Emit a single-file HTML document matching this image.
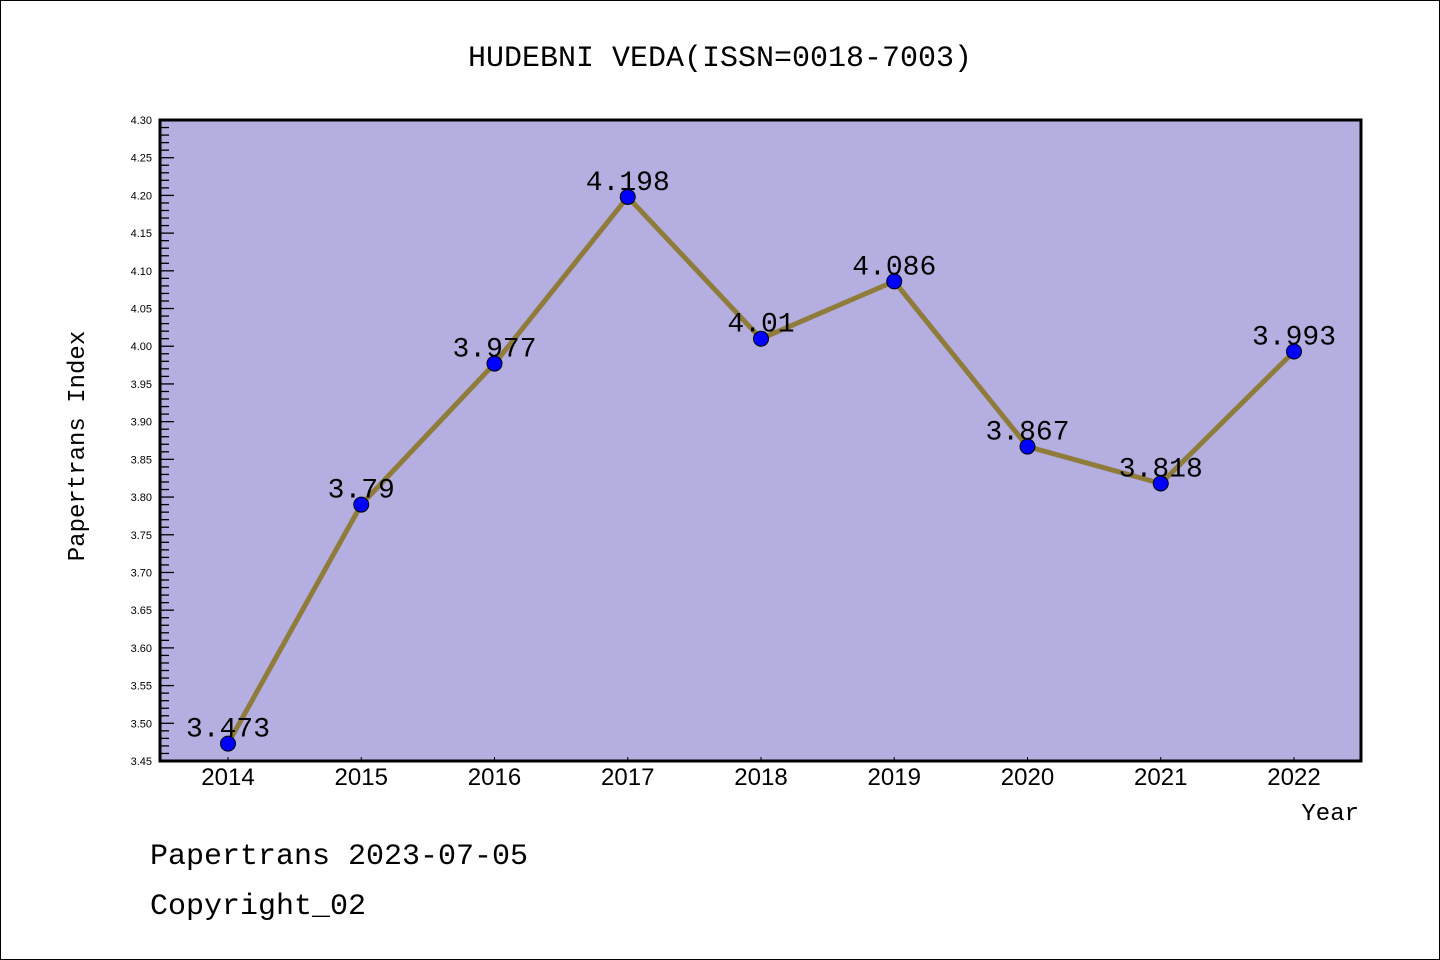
<!DOCTYPE html>
<html><head><meta charset="utf-8"><style>
html,body{margin:0;padding:0;background:#fff;}
svg{display:block;font-family:"Liberation Sans","Noto Sans CJK SC",sans-serif;}
</style></head><body>
<svg id="chart" width="1440" height="960" viewBox="0 0 1440 960" xmlns="http://www.w3.org/2000/svg">
<rect x="0.5" y="0.5" width="1439" height="959" fill="#fff" stroke="#000" stroke-width="1"/>
<text x="720" y="66" text-anchor="middle" font-size="30" font-family="'Liberation Mono','Noto Sans CJK SC',monospace">HUDEBNI VEDA(ISSN=0018-7003)</text>
<rect x="160" y="120" width="1201" height="641" fill="#b4aee1"/>
<g id="yaxis"></g>
<g id="xaxis"></g>
<g id="series"></g>
<rect x="160" y="120" width="1201" height="641" fill="none" stroke="#000" stroke-width="3"/>
<text transform="translate(84,446) rotate(-90)" text-anchor="middle" font-size="24" font-family="'Liberation Mono',monospace">Papertrans Index</text>
<text x="1359" y="820" text-anchor="end" font-size="24" font-family="'Liberation Mono',monospace">Year</text>
<text x="150" y="864" font-size="30" font-family="'Liberation Mono',monospace">Papertrans 2023-07-05</text>
<text x="150" y="914" font-size="30" font-family="'Liberation Mono',monospace">Copyright_02</text>
</svg>
<script>
const years = ["2014","2015","2016","2017","2018","2019","2020","2021","2022"];
const values = [3.473,3.79,3.977,4.198,4.01,4.086,3.867,3.818,3.993];
const valueLabels = ["3.473","3.79","3.977","4.198","4.01","4.086","3.867","3.818","3.993"];
const yTicks = ["3.45","3.50","3.55","3.60","3.65","3.70","3.75","3.80","3.85","3.90","3.95","4.00","4.05","4.10","4.15","4.20","4.25","4.30"];
const NS="http://www.w3.org/2000/svg";
const yMin=3.45,yMax=4.30,pTop=120,pBot=761,x0=228,x1=1294;
const ys=v=>pBot-(v-yMin)/(yMax-yMin)*(pBot-pTop);
const xs=i=>x0+i*(x1-x0)/(years.length-1);
function mk(t,a,p){const e=document.createElementNS(NS,t);for(const k in a)e.setAttribute(k,a[k]);p.appendChild(e);return e;}
const ya=document.getElementById('yaxis');
for(let k=0;k<=85;k++){const v=yMin+k*0.01;const y=ys(v);const major=k%5===0;
 const l=mk('line',{x1:160,x2:major?174:169,y1:y,y2:y,stroke:'#000','stroke-width':1.3},ya);
 
 }
yTicks.forEach(t=>{const y=ys(parseFloat(t));const e=mk('text',{x:152,y:y+4,'text-anchor':'end','font-size':11},ya);e.textContent=t;
 
 });
const xa=document.getElementById('xaxis');
years.forEach((yr,i)=>{const x=xs(i);
 const l=mk('line',{x1:x,x2:x,y1:761,y2:757,stroke:'#000','stroke-width':1},xa);
 
 
 const t=mk('text',{x:x,y:785,'text-anchor':'middle','font-size':24},xa);t.textContent=yr;
 
 });
const s=document.getElementById('series');
const pl=mk('polyline',{points:values.map((v,i)=>xs(i)+','+ys(v)).join(' '),fill:'none',stroke:'#8f7c3a','stroke-width':5,'stroke-linejoin':'round'},s);


values.forEach((v,i)=>{const c=mk('circle',{cx:xs(i),cy:ys(v),r:7.5,fill:'#0000ff',stroke:'#000','stroke-width':1},s);
 
 
 const t=mk('text',{x:xs(i),y:ys(v)-7,'text-anchor':'middle','font-size':28,'font-family':"'Liberation Mono',monospace"},s);t.textContent=valueLabels[i];
 
 });
</script>
</body></html>
